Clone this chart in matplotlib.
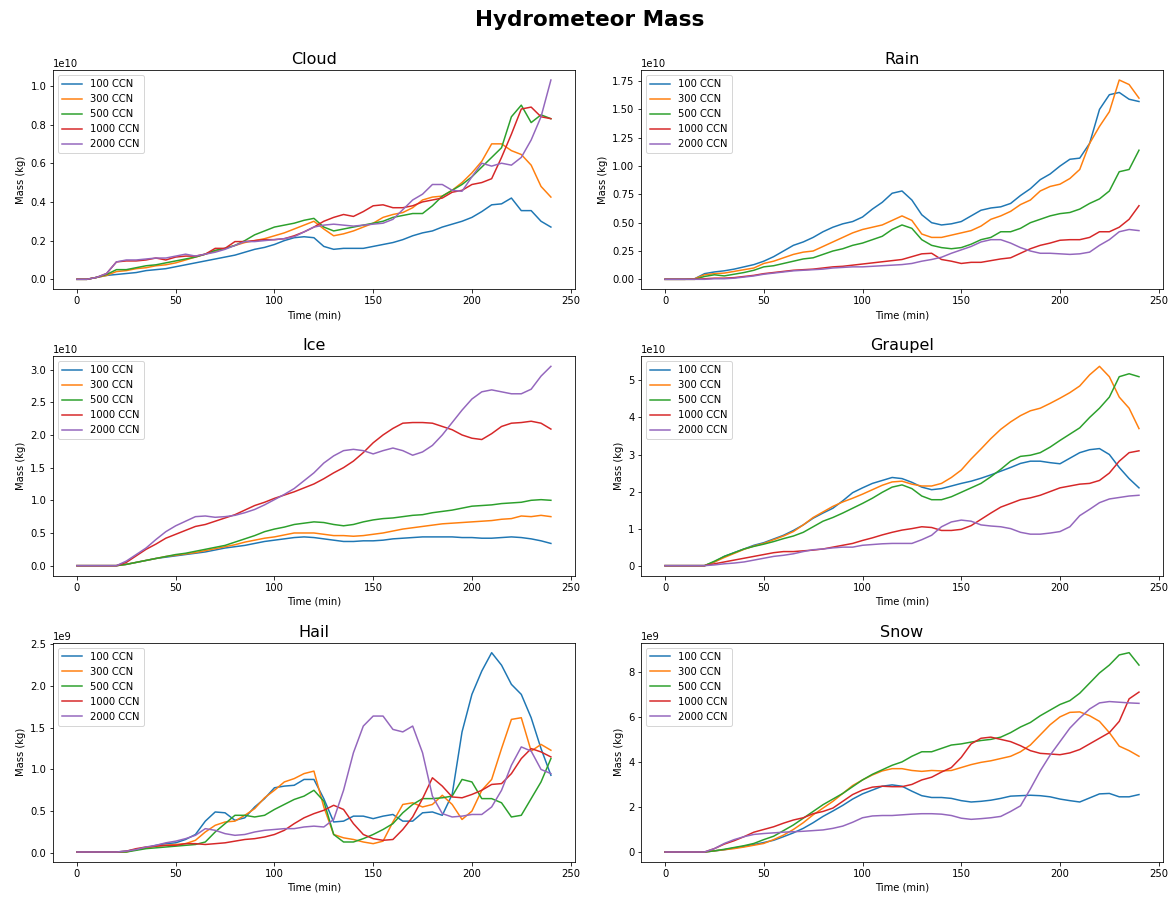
import matplotlib
matplotlib.use("Agg")
import matplotlib.pyplot as plt

# Time axis (minutes), sampled every 5 min
time_min = list(range(0, 245, 5))

ccn_labels = ["100 CCN", "300 CCN", "500 CCN", "1000 CCN", "2000 CCN"]

# ---- Cloud (units of 1e10 kg) ----
cloud_100 = [0, 0, 0.01, 0.02, 0.025, 0.03, 0.035, 0.045, 0.05, 0.055,
             0.065, 0.075, 0.085, 0.095, 0.105, 0.115, 0.125, 0.14, 0.155, 0.165,
             0.18, 0.20, 0.215, 0.22, 0.215, 0.17, 0.155, 0.16, 0.16, 0.16,
             0.17, 0.18, 0.19, 0.205, 0.225, 0.24, 0.25, 0.27, 0.285, 0.30,
             0.32, 0.35, 0.385, 0.39, 0.42, 0.355, 0.355, 0.30, 0.27]
cloud_300 = [0, 0, 0.01, 0.02, 0.04, 0.045, 0.055, 0.06, 0.07, 0.075,
             0.085, 0.10, 0.115, 0.13, 0.145, 0.16, 0.175, 0.19, 0.20, 0.21,
             0.225, 0.24, 0.26, 0.28, 0.30, 0.26, 0.225, 0.235, 0.25, 0.27,
             0.29, 0.32, 0.335, 0.345, 0.37, 0.41, 0.425, 0.43, 0.46, 0.50,
             0.55, 0.61, 0.70, 0.70, 0.665, 0.645, 0.59, 0.48, 0.425]
cloud_500 = [0, 0, 0.01, 0.025, 0.05, 0.05, 0.06, 0.07, 0.075, 0.085,
             0.095, 0.105, 0.115, 0.13, 0.15, 0.16, 0.175, 0.20, 0.23, 0.25,
             0.27, 0.28, 0.29, 0.305, 0.315, 0.27, 0.25, 0.26, 0.27, 0.28,
             0.29, 0.30, 0.32, 0.33, 0.34, 0.34, 0.38, 0.43, 0.46, 0.49,
             0.53, 0.58, 0.63, 0.68, 0.84, 0.90, 0.81, 0.85, 0.83]
cloud_1000 = [0, 0, 0.01, 0.03, 0.09, 0.095, 0.095, 0.10, 0.11, 0.10,
              0.115, 0.12, 0.12, 0.13, 0.16, 0.16, 0.195, 0.195, 0.20, 0.205,
              0.205, 0.21, 0.225, 0.245, 0.27, 0.30, 0.32, 0.335, 0.325, 0.35,
              0.38, 0.385, 0.37, 0.37, 0.38, 0.40, 0.41, 0.42, 0.45, 0.46,
              0.49, 0.50, 0.52, 0.63, 0.75, 0.88, 0.89, 0.84, 0.83]
cloud_2000 = [0, 0, 0.01, 0.03, 0.09, 0.10, 0.10, 0.105, 0.11, 0.11,
              0.12, 0.13, 0.12, 0.13, 0.14, 0.155, 0.175, 0.195, 0.195, 0.20,
              0.205, 0.21, 0.22, 0.245, 0.27, 0.28, 0.285, 0.28, 0.275, 0.28,
              0.285, 0.29, 0.31, 0.36, 0.41, 0.44, 0.49, 0.49, 0.46, 0.455,
              0.53, 0.60, 0.585, 0.60, 0.59, 0.63, 0.72, 0.84, 1.03]

# ---- Rain (units of 1e10 kg) ----
rain_100 = [0, 0, 0, 0.005, 0.05, 0.065, 0.075, 0.09, 0.11, 0.13,
            0.16, 0.20, 0.25, 0.30, 0.33, 0.37, 0.42, 0.46, 0.49, 0.51,
            0.55, 0.62, 0.68, 0.76, 0.78, 0.70, 0.57, 0.50, 0.48, 0.49,
            0.51, 0.56, 0.61, 0.63, 0.64, 0.67, 0.74, 0.80, 0.88, 0.93,
            1.00, 1.06, 1.07, 1.20, 1.50, 1.63, 1.65, 1.59, 1.57]
rain_300 = [0, 0, 0, 0.005, 0.04, 0.05, 0.055, 0.07, 0.085, 0.10,
            0.14, 0.16, 0.19, 0.22, 0.24, 0.25, 0.29, 0.33, 0.37, 0.41,
            0.44, 0.46, 0.48, 0.52, 0.56, 0.52, 0.40, 0.37, 0.37, 0.39,
            0.41, 0.43, 0.47, 0.53, 0.56, 0.60, 0.66, 0.70, 0.78, 0.82,
            0.84, 0.89, 0.97, 1.20, 1.35, 1.48, 1.76, 1.72, 1.60]
rain_500 = [0, 0, 0, 0, 0.025, 0.04, 0.03, 0.045, 0.06, 0.08,
            0.11, 0.12, 0.14, 0.16, 0.18, 0.19, 0.22, 0.25, 0.27, 0.30,
            0.32, 0.35, 0.38, 0.44, 0.48, 0.45, 0.35, 0.30, 0.28, 0.27,
            0.28, 0.31, 0.35, 0.37, 0.42, 0.42, 0.45, 0.50, 0.53, 0.56,
            0.58, 0.59, 0.62, 0.67, 0.71, 0.78, 0.95, 0.97, 1.14]
rain_1000 = [0, 0, 0, 0, 0.005, 0.01, 0.01, 0.015, 0.025, 0.035,
             0.05, 0.06, 0.07, 0.08, 0.085, 0.09, 0.10, 0.11, 0.115, 0.125,
             0.135, 0.145, 0.155, 0.165, 0.175, 0.20, 0.225, 0.23, 0.175, 0.16,
             0.14, 0.15, 0.15, 0.165, 0.18, 0.19, 0.23, 0.27, 0.30, 0.32,
             0.345, 0.35, 0.35, 0.37, 0.42, 0.42, 0.46, 0.53, 0.65]
rain_2000 = [0, 0, 0, 0, 0, 0.005, 0.005, 0.01, 0.02, 0.03,
             0.045, 0.055, 0.065, 0.075, 0.08, 0.085, 0.09, 0.10, 0.105, 0.11,
             0.11, 0.115, 0.12, 0.125, 0.13, 0.14, 0.16, 0.175, 0.195, 0.23,
             0.26, 0.29, 0.33, 0.35, 0.35, 0.32, 0.28, 0.25, 0.23, 0.23,
             0.225, 0.22, 0.225, 0.24, 0.30, 0.35, 0.42, 0.44, 0.43]

# ---- Ice (units of 1e10 kg) ----
ice_100 = [0, 0, 0, 0, 0, 0.02, 0.05, 0.08, 0.11, 0.13,
           0.15, 0.17, 0.19, 0.21, 0.24, 0.27, 0.29, 0.31, 0.34, 0.37,
           0.39, 0.41, 0.43, 0.44, 0.43, 0.41, 0.39, 0.37, 0.37, 0.38,
           0.38, 0.39, 0.41, 0.42, 0.43, 0.44, 0.44, 0.44, 0.44, 0.43,
           0.43, 0.42, 0.42, 0.43, 0.44, 0.43, 0.41, 0.38, 0.34]
ice_300 = [0, 0, 0, 0, 0, 0.02, 0.05, 0.08, 0.11, 0.14,
           0.16, 0.18, 0.20, 0.23, 0.26, 0.29, 0.32, 0.36, 0.39, 0.42,
           0.44, 0.47, 0.50, 0.50, 0.50, 0.48, 0.46, 0.46, 0.45, 0.46,
           0.48, 0.50, 0.53, 0.56, 0.58, 0.60, 0.62, 0.64, 0.65, 0.66,
           0.67, 0.68, 0.69, 0.71, 0.72, 0.76, 0.75, 0.77, 0.75]
ice_500 = [0, 0, 0, 0, 0, 0.02, 0.05, 0.08, 0.11, 0.14,
           0.17, 0.19, 0.22, 0.25, 0.28, 0.31, 0.36, 0.41, 0.46, 0.52,
           0.56, 0.59, 0.63, 0.65, 0.67, 0.66, 0.63, 0.61, 0.63, 0.67,
           0.70, 0.72, 0.73, 0.75, 0.77, 0.78, 0.81, 0.83, 0.85, 0.88,
           0.91, 0.92, 0.93, 0.95, 0.96, 0.97, 1.00, 1.01, 1.00]
ice_1000 = [0, 0, 0, 0, 0, 0.05, 0.15, 0.25, 0.33, 0.42,
            0.48, 0.54, 0.60, 0.63, 0.68, 0.73, 0.78, 0.85, 0.92, 0.97,
            1.03, 1.08, 1.13, 1.19, 1.25, 1.33, 1.42, 1.50, 1.60, 1.73,
            1.88, 2.00, 2.10, 2.18, 2.19, 2.19, 2.18, 2.13, 2.08, 2.00,
            1.95, 1.93, 2.02, 2.13, 2.18, 2.19, 2.21, 2.18, 2.09]
ice_2000 = [0, 0, 0, 0, 0, 0.07, 0.17, 0.27, 0.40, 0.52,
            0.61, 0.68, 0.75, 0.76, 0.74, 0.75, 0.77, 0.81, 0.86, 0.93,
            1.01, 1.09, 1.18, 1.30, 1.42, 1.57, 1.68, 1.76, 1.78, 1.76,
            1.71, 1.76, 1.80, 1.76, 1.69, 1.74, 1.84, 2.00, 2.19, 2.38,
            2.55, 2.66, 2.69, 2.66, 2.63, 2.63, 2.70, 2.90, 3.05]

# ---- Graupel (units of 1e10 kg) ----
graupel_100 = [0, 0, 0, 0, 0, 0.10, 0.25, 0.35, 0.45, 0.55,
               0.62, 0.72, 0.82, 0.95, 1.10, 1.28, 1.42, 1.55, 1.75, 1.97,
               2.10, 2.22, 2.30, 2.38, 2.35, 2.25, 2.12, 2.05, 2.08, 2.15,
               2.22, 2.28, 2.36, 2.45, 2.55, 2.65, 2.76, 2.82, 2.82, 2.78,
               2.75, 2.90, 3.05, 3.13, 3.16, 3.00, 2.65, 2.35, 2.10]
graupel_300 = [0, 0, 0, 0, 0, 0.10, 0.22, 0.33, 0.44, 0.53,
               0.60, 0.70, 0.80, 0.92, 1.10, 1.30, 1.45, 1.60, 1.72, 1.82,
               1.93, 2.05, 2.17, 2.26, 2.28, 2.20, 2.15, 2.15, 2.22, 2.38,
               2.58, 2.88, 3.15, 3.43, 3.68, 3.88, 4.05, 4.18, 4.25, 4.38,
               4.52, 4.67, 4.85, 5.15, 5.38, 5.10, 4.55, 4.25, 3.70]
graupel_500 = [0, 0, 0, 0, 0, 0.12, 0.25, 0.35, 0.45, 0.52,
               0.58, 0.65, 0.73, 0.80, 0.90, 1.05, 1.20, 1.30, 1.42, 1.55,
               1.68, 1.82, 1.98, 2.12, 2.18, 2.08, 1.88, 1.78, 1.78, 1.86,
               1.98, 2.10, 2.22, 2.40, 2.60, 2.82, 2.95, 2.98, 3.05, 3.20,
               3.38, 3.55, 3.72, 4.00, 4.25, 4.55, 5.10, 5.18, 5.10]
graupel_1000 = [0, 0, 0, 0, 0, 0.05, 0.10, 0.15, 0.20, 0.25,
                0.30, 0.35, 0.38, 0.38, 0.40, 0.42, 0.45, 0.50, 0.55, 0.60,
                0.68, 0.75, 0.83, 0.90, 0.96, 1.00, 1.05, 1.03, 0.95, 0.95,
                0.98, 1.08, 1.25, 1.42, 1.58, 1.68, 1.78, 1.83, 1.90, 2.00,
                2.10, 2.15, 2.20, 2.22, 2.30, 2.50, 2.82, 3.05, 3.10]
graupel_2000 = [0, 0, 0, 0, 0, 0.02, 0.05, 0.07, 0.10, 0.15,
                0.20, 0.25, 0.28, 0.32, 0.38, 0.43, 0.45, 0.48, 0.50, 0.50,
                0.55, 0.57, 0.59, 0.60, 0.60, 0.60, 0.70, 0.82, 1.05, 1.18,
                1.23, 1.20, 1.10, 1.07, 1.05, 1.00, 0.90, 0.85, 0.85, 0.88,
                0.92, 1.05, 1.35, 1.52, 1.70, 1.80, 1.84, 1.88, 1.90]

# ---- Hail (units of 1e9 kg) ----
hail_100 = [0.01, 0.01, 0.01, 0.01, 0.01, 0.02, 0.04, 0.06, 0.09, 0.11,
            0.12, 0.16, 0.22, 0.38, 0.49, 0.48, 0.39, 0.42, 0.55, 0.65,
            0.78, 0.80, 0.81, 0.88, 0.88, 0.65, 0.37, 0.38, 0.44, 0.44,
            0.41, 0.44, 0.46, 0.38, 0.38, 0.48, 0.49, 0.45, 0.70, 1.45,
            1.90, 2.18, 2.40, 2.25, 2.02, 1.90, 1.62, 1.25, 0.93]
hail_300 = [0.01, 0.01, 0.01, 0.01, 0.01, 0.01, 0.04, 0.06, 0.08, 0.09,
            0.10, 0.11, 0.15, 0.25, 0.33, 0.37, 0.38, 0.45, 0.53, 0.66,
            0.75, 0.85, 0.89, 0.95, 0.98, 0.55, 0.22, 0.18, 0.16, 0.13,
            0.11, 0.14, 0.37, 0.58, 0.60, 0.55, 0.58, 0.69, 0.58, 0.40,
            0.50, 0.75, 0.88, 1.25, 1.60, 1.62, 1.22, 1.30, 1.23]
hail_500 = [0.01, 0.01, 0.01, 0.01, 0.01, 0.01, 0.03, 0.05, 0.06, 0.07,
            0.08, 0.09, 0.10, 0.13, 0.25, 0.35, 0.45, 0.45, 0.43, 0.45,
            0.52, 0.58, 0.64, 0.68, 0.75, 0.62, 0.22, 0.13, 0.13, 0.17,
            0.22, 0.28, 0.35, 0.48, 0.58, 0.65, 0.65, 0.66, 0.68, 0.88,
            0.85, 0.65, 0.65, 0.60, 0.43, 0.45, 0.65, 0.85, 1.13]
hail_1000 = [0.01, 0.01, 0.01, 0.01, 0.01, 0.02, 0.05, 0.07, 0.08, 0.09,
             0.09, 0.11, 0.11, 0.10, 0.11, 0.12, 0.14, 0.16, 0.17, 0.19,
             0.22, 0.27, 0.35, 0.42, 0.47, 0.51, 0.57, 0.52, 0.35, 0.22,
             0.17, 0.15, 0.16, 0.28, 0.43, 0.65, 0.90, 0.80, 0.67, 0.66,
             0.70, 0.75, 0.82, 0.83, 0.95, 1.13, 1.25, 1.21, 1.15]
hail_2000 = [0.01, 0.01, 0.01, 0.01, 0.01, 0.02, 0.04, 0.07, 0.09, 0.12,
             0.14, 0.17, 0.21, 0.29, 0.27, 0.23, 0.21, 0.22, 0.25, 0.27,
             0.28, 0.29, 0.29, 0.31, 0.32, 0.31, 0.40, 0.75, 1.20, 1.52,
             1.64, 1.64, 1.48, 1.45, 1.52, 1.20, 0.68, 0.47, 0.43, 0.44,
             0.46, 0.46, 0.55, 0.75, 1.05, 1.27, 1.22, 1.00, 0.95]

# ---- Snow (units of 1e9 kg) ----
snow_100 = [0, 0, 0, 0, 0, 0.05, 0.10, 0.18, 0.25, 0.33,
            0.42, 0.52, 0.68, 0.85, 1.05, 1.30, 1.58, 1.82, 2.07, 2.35,
            2.58, 2.75, 2.92, 2.98, 2.92, 2.70, 2.50, 2.42, 2.42, 2.38,
            2.28, 2.22, 2.25, 2.30, 2.38, 2.48, 2.50, 2.52, 2.50, 2.45,
            2.35, 2.28, 2.22, 2.40, 2.58, 2.60, 2.45, 2.45, 2.55]
snow_300 = [0, 0, 0, 0, 0, 0.05, 0.10, 0.15, 0.22, 0.30,
            0.38, 0.55, 0.75, 1.00, 1.30, 1.65, 1.95, 2.25, 2.60, 2.95,
            3.20, 3.42, 3.60, 3.70, 3.70, 3.62, 3.58, 3.62, 3.60, 3.62,
            3.75, 3.88, 3.98, 4.05, 4.15, 4.25, 4.45, 4.75, 5.20, 5.65,
            6.00, 6.20, 6.22, 6.05, 5.80, 5.30, 4.70, 4.50, 4.25]
snow_500 = [0, 0, 0, 0, 0, 0.05, 0.12, 0.20, 0.28, 0.38,
            0.55, 0.70, 0.95, 1.20, 1.50, 1.80, 2.10, 2.35, 2.60, 2.90,
            3.20, 3.45, 3.65, 3.85, 4.00, 4.25, 4.45, 4.45, 4.60, 4.75,
            4.80, 4.88, 4.95, 5.00, 5.10, 5.30, 5.55, 5.75, 6.05, 6.30,
            6.55, 6.72, 7.05, 7.50, 7.95, 8.30, 8.75, 8.85, 8.30]
snow_1000 = [0, 0, 0, 0, 0, 0.15, 0.35, 0.50, 0.68, 0.88,
             1.00, 1.12, 1.28, 1.42, 1.52, 1.70, 1.80, 1.95, 2.25, 2.55,
             2.75, 2.88, 2.92, 2.90, 2.90, 3.00, 3.20, 3.32, 3.55, 3.75,
             4.20, 4.80, 5.05, 5.10, 5.00, 4.90, 4.72, 4.50, 4.38, 4.35,
             4.32, 4.40, 4.55, 4.80, 5.05, 5.30, 5.80, 6.80, 7.10]
snow_2000 = [0, 0, 0, 0, 0, 0.15, 0.38, 0.55, 0.68, 0.78,
             0.82, 0.85, 0.88, 0.90, 0.92, 0.95, 0.98, 1.05, 1.15, 1.32,
             1.52, 1.60, 1.62, 1.62, 1.65, 1.68, 1.70, 1.70, 1.68, 1.62,
             1.50, 1.45, 1.48, 1.52, 1.58, 1.80, 2.05, 2.80, 3.60, 4.30,
             4.90, 5.50, 5.95, 6.35, 6.62, 6.68, 6.65, 6.62, 6.60]

panels = [
    ("Cloud", 1e10, [cloud_100, cloud_300, cloud_500, cloud_1000, cloud_2000]),
    ("Rain", 1e10, [rain_100, rain_300, rain_500, rain_1000, rain_2000]),
    ("Ice", 1e10, [ice_100, ice_300, ice_500, ice_1000, ice_2000]),
    ("Graupel", 1e10, [graupel_100, graupel_300, graupel_500, graupel_1000, graupel_2000]),
    ("Hail", 1e9, [hail_100, hail_300, hail_500, hail_1000, hail_2000]),
    ("Snow", 1e9, [snow_100, snow_300, snow_500, snow_1000, snow_2000]),
]

DPI = 72
fig, axes = plt.subplots(3, 2, figsize=(1173 / DPI, 899 / DPI), dpi=DPI)
fig.subplots_adjust(left=0.0454, right=0.9912, top=0.9221, bottom=0.0412,
                    wspace=0.128, hspace=0.306)

for ax, (name, scale, series) in zip(axes.flat, panels):
    for vals, lab in zip(series, ccn_labels):
        ax.plot(time_min, [v * scale for v in vals], label=lab)
    ax.set_title(name, fontsize=16)
    ax.set_xlabel("Time (min)")
    ax.set_ylabel("Mass (kg)")
    ax.set_xticks([0, 50, 100, 150, 200, 250])
    ax.legend(loc="upper left")

fig.suptitle("Hydrometeor Mass", fontsize=21.5, fontweight="bold",
             x=0.503, y=1 - 26 / 899, va="baseline")

fig.savefig("out.png", dpi=DPI)
